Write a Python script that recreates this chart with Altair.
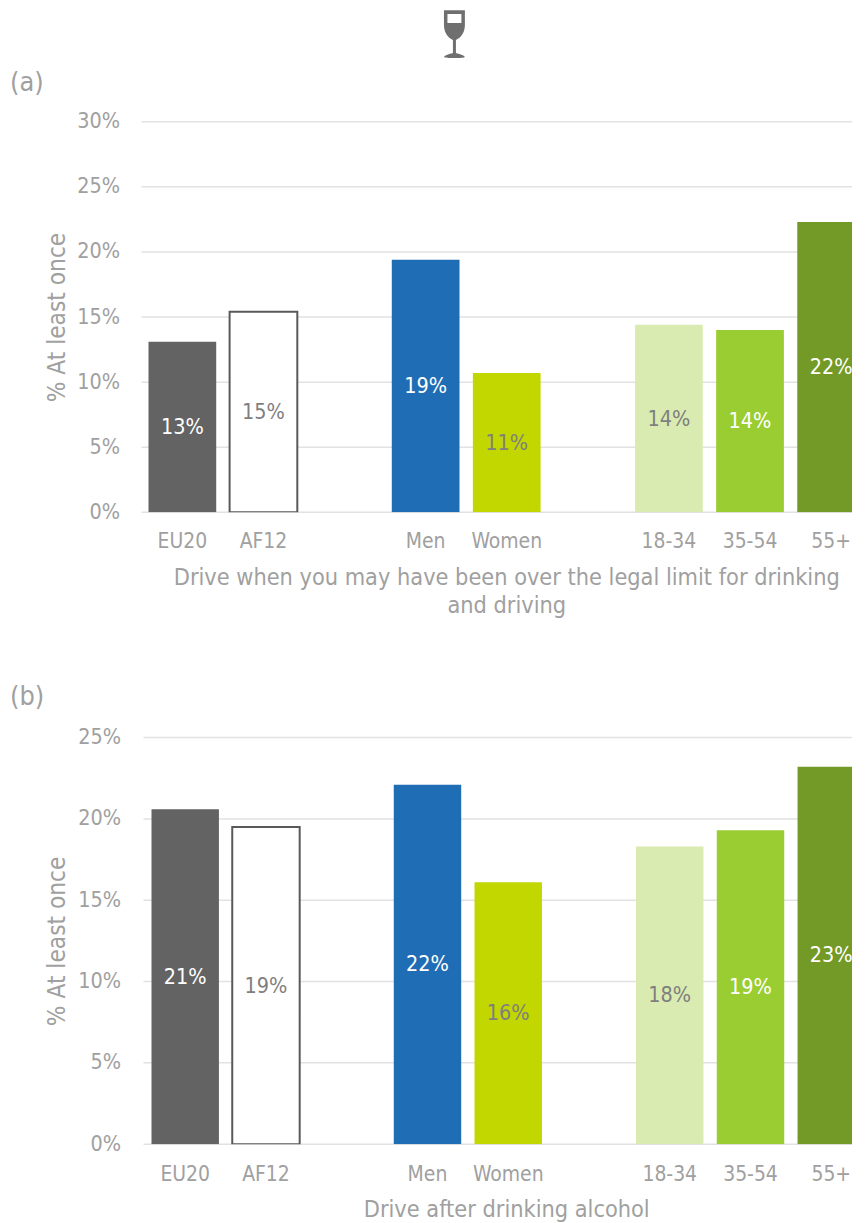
import altair as alt

categories = ["EU20", "AF12", " ", "Men", "Women", "  ", "18-34", "35-54", "55+"]
shown = ["EU20", "AF12", "Men", "Women", "18-34", "35-54", "55+"]
values_a = [13.1, 15.4, 19.4, 10.7, 14.4, 14.0, 22.3]
values_b = [20.6, 19.5, 22.1, 16.1, 18.3, 19.3, 23.2]
labels_a = ["13%", "15%", "19%", "11%", "14%", "14%", "22%"]
labels_b = ["21%", "19%", "22%", "16%", "18%", "19%", "23%"]
fills = ["#636363", "#ffffff", "#1f6db5", "#c2d600", "#d9ebb0", "#9acd32", "#739a27"]
outlines = [0, 2, 0, 0, 0, 0, 0]
text_colors = ["#ffffff", "#7f7f7f", "#ffffff", "#7f7f7f", "#7f7f7f", "#ffffff", "#ffffff"]
ticks_a = [0, 5, 10, 15, 20, 25, 30]
ticks_b = [0, 5, 10, 15, 20, 25]
title_a = ["Drive when you may have been over the legal limit for drinking", "and driving"]
title_b = "Drive after drinking alcohol"

FONT = "DejaVu Sans Condensed"
GREY = "#a0a0a0"
WIDTH = 713
GLASS = ("M-0.42,-0.96 H0.42 V-0.36 C0.42,-0.04 0.24,0.16 0.06,0.24 V0.76 "
         "C0.2,0.8 0.4,0.86 0.42,0.92 C0.4,0.98 -0.4,0.98 -0.42,0.92 "
         "C-0.4,0.86 -0.2,0.8 -0.06,0.76 V0.24 C-0.24,0.16 -0.42,-0.04 -0.42,-0.36 Z "
         "M-0.28,-0.8 V-0.44 H0.28 V-0.8 Z")


def panel(values, labels, ticks, ymax, height, xrange, grid_start, tag, tag_y, xtitle, title_y,
          label_pad, x_label_pad, text_dy, icon=False):
    rows = [
        {"cat": c, "value": v, "label": l, "fill": f, "sw": s, "tc": t}
        for c, v, l, f, s, t in zip(shown, values, labels, fills, outlines, text_colors)
    ]
    data = alt.Data(values=rows)
    xscale = alt.Scale(domain=categories, range=xrange, paddingInner=0.165, paddingOuter=0, round=False)
    yscale = alt.Scale(domain=[0, ymax], nice=False, zero=True)
    xaxis = alt.Axis(
        values=shown, title=xtitle, labelAngle=0, domain=False, ticks=False,
        labelFont=FONT, labelFontSize=21, labelColor=GREY, labelPadding=x_label_pad,
        titleFont=FONT, titleFontSize=23.4, titleColor=GREY, titleFontWeight="normal",
        titleX=366, titleY=title_y, titleLineHeight=28, labelOverlap=False,
    )
    yaxis = alt.Axis(
        values=ticks, title="% At least once", labelExpr="datum.value + '%'",
        domain=False, ticks=False, grid=False,
        labelFont=FONT, labelFontSize=21.5, labelColor=GREY, labelPadding=label_pad,
        titleFont=FONT, titleFontSize=24.3, titleColor=GREY, titleFontWeight="normal",
        titleX=-72, titleY=height / 2,
    )

    grid = alt.Chart(alt.Data(values=[{"t": t} for t in ticks])).mark_rule(
        color="#e2e2e2", strokeWidth=1.5
    ).encode(
        x=alt.value(grid_start), x2=alt.value(WIDTH),
        y=alt.Y("t:Q", scale=yscale, axis=yaxis),
    )
    bars = alt.Chart(data).mark_bar(stroke="#595959", clip=True).encode(
        x=alt.X("cat:N", scale=xscale, axis=xaxis),
        y=alt.Y("value:Q", scale=yscale, axis=yaxis),
        fill=alt.Fill("fill:N", scale=None),
        strokeWidth=alt.StrokeWidth("sw:Q", scale=None),
    )
    text = alt.Chart(data).transform_calculate(mid="datum.value / 2").mark_text(
        font=FONT, fontSize=21.5, baseline="middle", align="center", dy=text_dy
    ).encode(
        x=alt.X("cat:N", scale=xscale, axis=xaxis),
        y=alt.Y("mid:Q", scale=yscale, axis=yaxis),
        text="label:N",
        color=alt.Color("tc:N", scale=None),
    )
    tag_mark = alt.Chart(alt.Data(values=[{"tag": tag}])).mark_text(
        font=FONT, fontSize=27, color=GREY, align="left", baseline="middle"
    ).encode(x=alt.value(-132), y=alt.value(tag_y), text="tag:N")
    layers = [grid, bars, text, tag_mark]
    if icon:
        layers.append(
            alt.Chart(alt.Data(values=[{"i": 1}])).mark_point(
                shape=GLASS, size=2500, filled=True, fill="#6f6f6f", opacity=1, strokeWidth=0
            ).encode(x=alt.value(314), y=alt.value(-88))
        )
    return alt.layer(*layers).properties(width=WIDTH, height=height)


chart_a = panel(values_a, labels_a, ticks_a, 30, 392, [7, 726], 0, "(a)", -39, title_a, 54, 22, 18, 1, icon=True)
chart_b = panel(values_b, labels_b, ticks_b, 25, 408, [10, 726], 2, "(b)", -41, title_b, 55, 21, 19, 1)

chart = alt.vconcat(chart_a, chart_b, spacing=66).properties(
    padding={"left": 2, "top": 0, "right": 0, "bottom": 0}, background="white"
).configure_view(stroke=None)

chart.save("out.html", embed_options={"renderer": "svg", "actions": False})
